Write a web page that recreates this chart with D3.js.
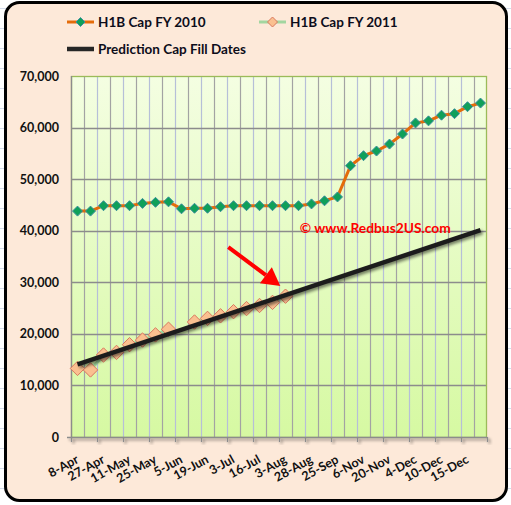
<!DOCTYPE html>
<html>
<head>
<meta charset="utf-8">
<script src="https://cdn.jsdelivr.net/npm/d3@7"></script>
<style>
  body { margin: 0; background: #fff; }
  text { font-family: Lato, "Open Sans", sans-serif; }
</style>
</head>
<body>
<svg id="chart"></svg>
<script>
// H1B cap count per filing date (FY2010 vs FY2011) with the prediction line

// x-axis labels, one on every second category
const dateLabels = ['8-Apr', '27-Apr', '11-May', '25-May', '5-Jun', '19-Jun', '3-Jul', '16-Jul',
  '3-Aug', '28-Aug', '25-Sep', '6-Nov', '20-Nov', '4-Dec', '10-Dec', '15-Dec'];

const fy2010 = [43800, 43800, 44850, 44850, 44850, 45300, 45500, 45600, 44250, 44350, 44350, 44650,
  44850, 44850, 44850, 44850, 44850, 44850, 45200, 45800, 46550, 52600, 54550, 55450,
  56800, 58750, 60900, 61300, 62400, 62700, 64050, 64750];

const fy2011 = [13300, 13000, 15900, 16400, 17900, 18800, 19800, 20900, null, 22300, 23000, 23500,
  24300, 24900, 25500, 26100, 27300];

// prediction line: first and last category
const predictionIdx = [0, 31];
const predictionVal = [14100, 40100];

const yTicks = [0, 10000, 20000, 30000, 40000, 50000, 60000, 70000];

class CapChart {
  constructor(_config) {
    this.config = {
      parentElement: _config.parentElement,
      containerWidth: 511,
      containerHeight: 505,
      plot: { left: 71, right: 487, top: 76, bottom: 437 },
    };
    this.initVis();
  }

  initVis() {
    const vis = this;

    vis.svg = d3.select(vis.config.parentElement)
      .attr('width', vis.config.containerWidth)
      .attr('height', vis.config.containerHeight);

    const defs = vis.svg.append('defs');
    const grad = defs.append('linearGradient')
      .attr('id', 'plotBg')
      .attr('x1', 0).attr('y1', 0).attr('x2', 0).attr('y2', 1);
    grad.append('stop').attr('offset', '0%').attr('stop-color', '#f4fee2');
    grad.append('stop').attr('offset', '100%').attr('stop-color', '#d6f9a2');

    const shadow = defs.append('filter')
      .attr('id', 'shadow')
      .attr('x', '-10%').attr('y', '-50%').attr('width', '120%').attr('height', '200%');
    shadow.append('feGaussianBlur').attr('in', 'SourceAlpha').attr('stdDeviation', 1.5);
    shadow.append('feOffset').attr('dx', 1.5).attr('dy', 2).attr('result', 'off');
    shadow.append('feComponentTransfer').append('feFuncA').attr('type', 'linear').attr('slope', 0.5);
    const merge = shadow.append('feMerge');
    merge.append('feMergeNode');
    merge.append('feMergeNode').attr('in', 'SourceGraphic');

    // faint spreadsheet cell lines outside the chart frame
    const cellRows = d3.range(8, 505, 20);
    vis.svg.selectAll('.cell-line')
      .data(cellRows)
      .join('line')
      .attr('class', 'cell-line')
      .attr('x1', 0).attr('x2', 511)
      .attr('y1', (d) => d + 0.5).attr('y2', (d) => d + 0.5)
      .attr('stroke', '#d4dcea');

    // chart frame
    vis.svg.append('rect')
      .attr('x', 5.5).attr('y', 2.5)
      .attr('width', 501).attr('height', 498)
      .attr('rx', 14)
      .attr('fill', '#fde9d9')
      .attr('stroke', '#000')
      .attr('stroke-width', 3);

    // Scales: x in category units (category i is centred on i + 0.5)
    const p = vis.config.plot;
    vis.xScale = d3.scaleLinear().domain([0, 32]).range([p.left, p.right]);
    vis.yScale = d3.scaleLinear().domain([0, 70000]).range([p.bottom, p.top]);

    vis.renderVis();
    vis.renderLegend();
  }

  renderVis() {
    const vis = this;
    const p = vis.config.plot;
    const x = vis.xScale;
    const y = vis.yScale;

    vis.svg.append('rect')
      .attr('x', p.left).attr('y', p.top)
      .attr('width', p.right - p.left).attr('height', p.bottom - p.top)
      .attr('fill', 'url(#plotBg)');

    // vertical gridlines at each category boundary
    vis.svg.selectAll('.v-grid')
      .data(d3.range(1, 32))
      .join('line')
      .attr('class', 'v-grid')
      .attr('x1', (d) => Math.round(x(d)) + 0.5)
      .attr('x2', (d) => Math.round(x(d)) + 0.5)
      .attr('y1', p.top).attr('y2', p.bottom)
      .attr('stroke', (d) => (d % 2 === 0 ? '#b6bfd8' : '#a3a3a3'))
      .attr('stroke-width', 1.2);

    // horizontal gridlines
    vis.svg.selectAll('.h-grid')
      .data(yTicks.slice(1, -1))
      .join('line')
      .attr('class', 'h-grid')
      .attr('x1', p.left).attr('x2', p.right)
      .attr('y1', (d) => Math.round(y(d)) + 0.5)
      .attr('y2', (d) => Math.round(y(d)) + 0.5)
      .attr('stroke', '#8c8c8c')
      .attr('stroke-width', 1.3);

    // plot area border (top / right show green)
    vis.svg.append('rect')
      .attr('x', p.left + 0.5).attr('y', p.top + 0.5)
      .attr('width', p.right - p.left - 1).attr('height', p.bottom - p.top)
      .attr('fill', 'none')
      .attr('stroke', '#9bbb59')
      .attr('stroke-width', 1.3);

    // y axis line
    vis.svg.append('line')
      .attr('x1', p.left + 0.5).attr('x2', p.left + 0.5)
      .attr('y1', p.top).attr('y2', p.bottom)
      .attr('stroke', '#8c8c8c').attr('stroke-width', 1.3);

    // y axis labels
    const yAxis = d3.axisLeft(y)
      .tickValues(yTicks)
      .tickSize(0)
      .tickPadding(12)
      .tickFormat(d3.format(','));
    const yAxisG = vis.svg.append('g')
      .attr('transform', `translate(${p.left},0)`)
      .call(yAxis)
      .call((g) => g.select('.domain').remove());
    yAxisG.selectAll('text')
      .attr('font-family', 'Lato, sans-serif')
      .attr('font-weight', 'bold')
      .attr('font-size', 12.5)
      .attr('fill', '#111');

    // x axis line with a soft shadow and tick marks
    const xAxisG = vis.svg.append('g').attr('filter', 'url(#shadow)');
    xAxisG.append('line')
      .attr('x1', p.left - 4).attr('x2', p.right)
      .attr('y1', p.bottom + 0.5).attr('y2', p.bottom + 0.5)
      .attr('stroke', '#8c8c8c').attr('stroke-width', 1.5);
    xAxisG.selectAll('.x-tick')
      .data(d3.range(0, 33, 2))
      .join('line')
      .attr('class', 'x-tick')
      .attr('x1', (d) => Math.round(x(d)) + 0.5)
      .attr('x2', (d) => Math.round(x(d)) + 0.5)
      .attr('y1', p.bottom).attr('y2', p.bottom + 5)
      .attr('stroke', '#8c8c8c').attr('stroke-width', 1.3);

    // x labels
    vis.svg.selectAll('.x-label')
      .data(dateLabels)
      .join('text')
      .attr('class', 'x-label')
      .attr('transform', (d, i) => `translate(${x(i * 2 + 0.5) + 2},${p.bottom + 25}) rotate(-29)`)
      .attr('text-anchor', 'end')
      .attr('font-weight', 'bold')
      .attr('font-size', 12.5)
      .attr('fill', '#111')
      .text((d) => d);

    // FY2010 series
    const pts2010 = fy2010.map((v, i) => ({ i, v }));
    const line = d3.line()
      .defined((d) => d.v !== null)
      .x((d) => x(d.i + 0.5))
      .y((d) => y(d.v));

    vis.svg.append('path')
      .datum(pts2010)
      .attr('d', line)
      .attr('fill', 'none')
      .attr('stroke', '#e46c0a')
      .attr('stroke-width', 3)
      .attr('stroke-linejoin', 'round');

    const diamond = (r) => `M0,${-r}L${r},0L0,${r}L${-r},0Z`;

    vis.svg.selectAll('.pt2010')
      .data(pts2010)
      .join('path')
      .attr('class', 'pt2010')
      .attr('transform', (d) => `translate(${x(d.i + 0.5)},${y(d.v)})`)
      .attr('d', diamond(5))
      .attr('fill', '#0fa059')
      .attr('stroke', '#3c8ea0')
      .attr('stroke-width', 1);

    // FY2011 series
    const pts2011 = fy2011.map((v, i) => ({ i, v }));
    vis.svg.append('path')
      .datum(pts2011)
      .attr('d', line)
      .attr('fill', 'none')
      .attr('stroke', '#9fd49a')
      .attr('stroke-width', 3);

    vis.svg.selectAll('.pt2011')
      .data(pts2011.filter((d) => d.v !== null))
      .join('path')
      .attr('class', 'pt2011')
      .attr('transform', (d) => `translate(${x(d.i + 0.5)},${y(d.v)})`)
      .attr('d', diamond(7.2))
      .attr('fill', '#fac090')
      .attr('stroke', '#d9785e')
      .attr('stroke-width', 1);

    // prediction line
    const predPts = predictionIdx.map((i, k) => ({ i, v: predictionVal[k] }));
    vis.svg.append('path')
      .datum(predPts)
      .attr('d', line)
      .attr('fill', 'none')
      .attr('stroke', '#1c1c1c')
      .attr('stroke-width', 4.5)
      .attr('filter', 'url(#shadow)');

    // watermark
    vis.svg.append('text')
      .attr('x', x(17.6))
      .attr('y', y(39550))
      .attr('font-size', 13.8)
      .attr('font-weight', 'bold')
      .attr('fill', '#ff0000')
      .text('\u00a9 www.Redbus2US.com');

    // red arrow pointing at the latest FY2011 count
    const from = [x(12.1), y(36800)];
    const tip = [x(16.1), y(29300)];
    const ang = Math.atan2(tip[1] - from[1], tip[0] - from[0]);
    const headLen = 18;
    const headW = 10;
    const base = [tip[0] - headLen * Math.cos(ang), tip[1] - headLen * Math.sin(ang)];
    vis.svg.append('line')
      .attr('x1', from[0]).attr('y1', from[1])
      .attr('x2', base[0]).attr('y2', base[1])
      .attr('stroke', '#ff0000')
      .attr('stroke-width', 4);
    vis.svg.append('path')
      .attr('d', `M${tip[0]},${tip[1]}`
        + `L${base[0] + headW * Math.sin(ang)},${base[1] - headW * Math.cos(ang)}`
        + `L${base[0] - headW * Math.sin(ang)},${base[1] + headW * Math.cos(ang)}Z`)
      .attr('fill', '#ff0000');
  }

  renderLegend() {
    const vis = this;
    const legend = vis.svg.append('g');
    const items = [
      { label: 'H1B Cap FY 2010', x: 67, y: 22, line: '#e46c0a', w: 3, fill: '#0fa059', stroke: '#3c8ea0', r: 4.5 },
      { label: 'H1B Cap FY 2011', x: 259, y: 22, line: '#a3d6a0', w: 3, fill: '#fac090', stroke: '#d9785e', r: 5 },
      { label: 'Prediction Cap Fill Dates', x: 67, y: 49, line: '#262626', w: 4.5, fill: null },
    ];
    const g = legend.selectAll('.legend-item')
      .data(items)
      .join('g')
      .attr('class', 'legend-item')
      .attr('transform', (d) => `translate(${d.x},${d.y})`);
    g.append('line')
      .attr('x1', 0).attr('x2', 27)
      .attr('stroke', (d) => d.line)
      .attr('stroke-width', (d) => d.w);
    g.filter((d) => d.fill)
      .append('path')
      .attr('d', (d) => `M13.5,${-d.r}L${13.5 + d.r},0L13.5,${d.r}L${13.5 - d.r},0Z`)
      .attr('fill', (d) => d.fill)
      .attr('stroke', (d) => d.stroke);
    g.append('text')
      .attr('x', 31)
      .attr('y', 5)
      .attr('font-size', 13.5)
      .attr('font-weight', 'bold')
      .attr('fill', '#0d0d1a')
      .text((d) => d.label);
  }
}

const capChart = new CapChart({ parentElement: '#chart' });
</script>
</body>
</html>
